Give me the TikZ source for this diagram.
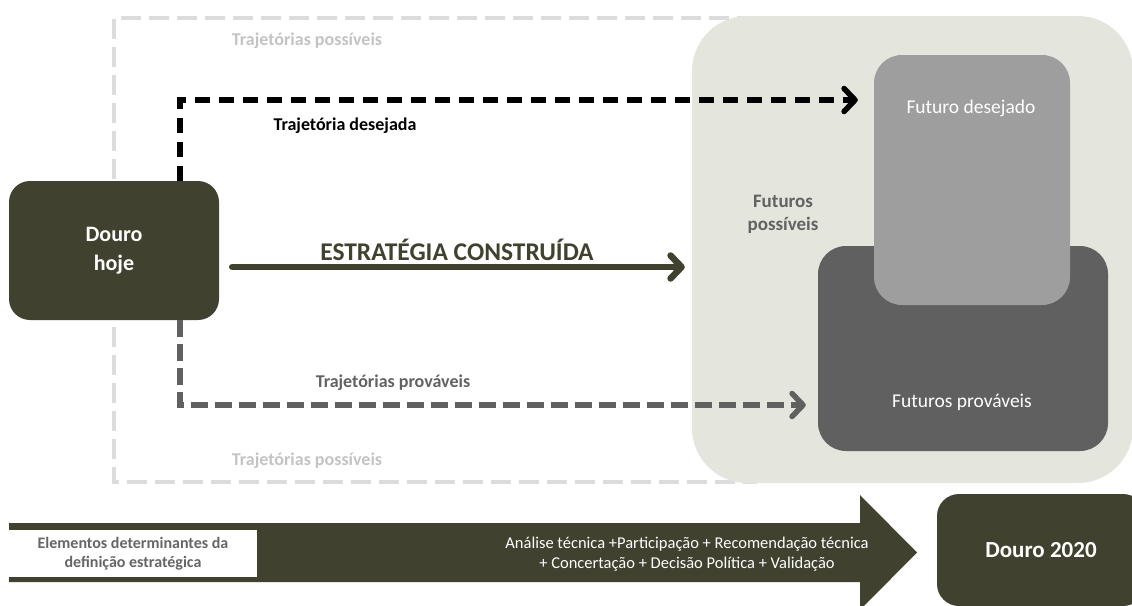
\documentclass[tikz,border=0pt]{standalone}
\usepackage{fontspec}
\setmainfont{Carlito}
\usetikzlibrary{arrows.meta}
\definecolor{olive}{HTML}{40412F}
\definecolor{beige}{HTML}{E4E5DC}
\definecolor{lightdash}{HTML}{DCDCDC}
\definecolor{possiveltext}{HTML}{C3C3C3}
\definecolor{desejbox}{HTML}{9D9E9D}
\definecolor{provbox}{HTML}{5F605F}
\definecolor{labelgray}{HTML}{616261}
\definecolor{elemtext}{HTML}{666666}
\tikzset{
  rbox/.style={rectangle, inner sep=0pt, align=center, text=white},
  chev/.style={-{Straight Barb[length=11pt,width=23pt,line cap=round,line join=round]}},
  lbl/.style={inner sep=0pt, font=\fontsize{18}{21}\selectfont\bfseries},
}
\begin{document}
\begin{tikzpicture}[x=1pt,y=-1pt]
\useasboundingbox (0,0) rectangle (1132,605);
\clip (0,0) rectangle (1132,605);
% possible trajectories frame (open on the right, under the beige area)
\draw[lightdash, line width=4.5pt, dash pattern=on 20pt off 8pt] (757,18) -- (114,18) -- (114,482) -- (757,482);
% beige area
\node[rbox, fill=beige, rounded corners=55pt, minimum width=441pt, minimum height=467pt] (possible) at (912.5,249.5) {};
% boxes
\node[rbox, fill=provbox, rounded corners=28pt, minimum width=290pt, minimum height=205pt] (prov) at (963,348.5) {};
\node[rbox, fill=desejbox, rounded corners=28pt, minimum width=196pt, minimum height=250pt] (desej) at (972,180) {};
\node[inner sep=0pt, text=white, font=\fontsize{19.5}{22}\selectfont] (desejtxt) at (971,108) {Futuro desejado};
\node[inner sep=0pt, text=white, font=\fontsize{19.5}{22}\selectfont] (provtxt) at (962,402) {Futuros prováveis};
\node[inner sep=0pt, text=labelgray, align=center, font=\fontsize{19}{23}\selectfont\bfseries] (posstxt) at (783,214) {Futuros\\possíveis};
% Douro hoje
\node[rbox, fill=olive, rounded corners=21pt, minimum width=210pt, minimum height=139pt, font=\fontsize{22}{29}\selectfont\bfseries] (hoje) at (114,250.5) {Douro\\hoje};
% labels
\node[lbl, text=possiveltext] (posstop) at (307,41) {Trajetórias possíveis};
\node[lbl, text=possiveltext] (possbot) at (307,461) {Trajetórias possíveis};
\node[lbl, text=black] (desejlbl) at (345,126) {Trajetória desejada};
\node[lbl, text=labelgray] (provlbl) at (393,383) {Trajetórias prováveis};
\node[inner sep=0pt, text=olive, font=\fontsize{25.5}{29}\selectfont\bfseries] (estlbl) at (457,250) {ESTRATÉGIA CONSTRUÍDA};
% coordinates for bends
\coordinate (topbend) at (180,100);
\coordinate (botbend) at (180,405);
% connectors
\draw[chev, line width=6.5pt, olive, line cap=round] (hoje.east |- 0,267) ++(13,0) coordinate (sstart) -- (possible.west |- 0,267) [shorten >=7pt];
\draw[chev, line width=5.5pt, black, dash pattern=on 15pt off 9pt] (hoje.north -| topbend) -- (topbend) -- (desej.west |- topbend) [shorten >=16pt];
\draw[chev, line width=5.5pt, provbox, dash pattern=on 17pt off 7pt] (hoje.south -| botbend) -- (botbend) -- (prov.west |- botbend) [shorten >=12pt];
% bottom band arrow
\fill[olive] (9,523) -- (860,523) -- (860,495) -- (917,552.5) -- (860,610) -- (860,582) -- (9,582) -- cycle;
\node[rbox, fill=white, minimum width=248pt, minimum height=47pt, text=elemtext, font=\fontsize{16}{19.5}\selectfont\bfseries] (elem) at (133,553.5) {Elementos determinantes da\\definição estratégica};
\node[inner sep=0pt, text=white, align=center, font=\fontsize{16.5}{19.5}\selectfont] (steps) at (687,554) {Análise técnica +Participação + Recomendação técnica\\+ Concertação + Decisão Política + Validação};
\node[rbox, fill=olive, rounded corners=22pt, minimum width=208pt, minimum height=112pt, font=\fontsize{23}{27}\selectfont\bfseries] (d2020) at (1041,550) {Douro 2020};
\end{tikzpicture}
\end{document}
